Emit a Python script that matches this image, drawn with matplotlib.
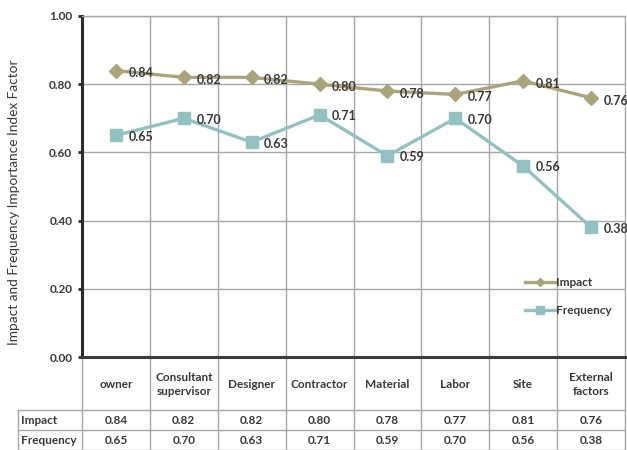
#!/usr/bin/env python3
"""
Impact and frequency importance index by risk source, with data table below.
"""
import matplotlib
matplotlib.use("Agg")
import matplotlib.pyplot as plt

categories = ["owner", "Consultant\nsupervisor", "Designer", "Contractor",
              "Material", "Labor", "Site", "External\nfactors"]
impact = [0.84, 0.82, 0.82, 0.80, 0.78, 0.77, 0.81, 0.76]
frequency = [0.65, 0.70, 0.63, 0.71, 0.59, 0.70, 0.56, 0.38]
y_ticks = [0.0, 0.2, 0.4, 0.6, 0.8, 1.0]

IMPACT_COLOR = "#aaa47a"
FREQ_COLOR = "#93c1c1"
TEXT_COLOR = "#383838"
GRID_COLOR = "#a6a6a6"

plt.rcParams["font.family"] = ["Lato", "DejaVu Sans"]

W, H = 627, 450
fig = plt.figure(figsize=(W / 100, H / 100), dpi=100)

# plot area in pixels
left, right, top, bottom = 82, 625, 16, 357
ax = fig.add_axes([left / W, 1 - bottom / H, (right - left) / W, (bottom - top) / H])

n = len(categories)
x = list(range(n))
ax.set_xlim(-0.5, n - 0.5)
ax.set_ylim(0, 1.0)

# grid
for i in range(1, n):
    ax.axvline(i - 0.5, color=GRID_COLOR, lw=1, zorder=0)
for t in y_ticks[1:]:
    ax.axhline(t, color=GRID_COLOR, lw=1, zorder=0)

ax.plot(x, impact, color=IMPACT_COLOR, lw=2.4, marker="D", ms=7, label="Impact", zorder=3)
ax.plot(x, frequency, color=FREQ_COLOR, lw=2.4, marker="s", ms=9, label="Frequency", zorder=3)

for xi, v in zip(x, impact):
    ax.annotate(f"{v:.2f}", (xi, v), xytext=(9, -2), textcoords="offset points",
                va="center", ha="left", fontsize=9, color=TEXT_COLOR,
                fontweight="bold", clip_on=False, zorder=4)
for xi, v in zip(x, frequency):
    ax.annotate(f"{v:.2f}", (xi, v), xytext=(9, -1), textcoords="offset points",
                va="center", ha="left", fontsize=9, color=TEXT_COLOR,
                fontweight="bold", clip_on=False, zorder=4)

ax.set_yticks(y_ticks)
ax.set_yticklabels([f"{t:.2f}" for t in y_ticks], fontsize=8.5, color=TEXT_COLOR,
                   fontweight="bold")
ax.set_xticks([])
ax.tick_params(axis="y", direction="out", length=3, width=2, color="#2b2b2b", pad=4)

ax.spines["left"].set_color("#2b2b2b")
ax.spines["left"].set_linewidth(2.2)
ax.spines["bottom"].set_color("#3a3a3a")
ax.spines["bottom"].set_linewidth(2.2)
ax.spines["top"].set_color(GRID_COLOR)
ax.spines["top"].set_linewidth(1)
ax.spines["right"].set_color(GRID_COLOR)
ax.spines["right"].set_linewidth(1)

ax.set_ylabel("Impact and Frequency Importance Index Factor", fontsize=9.8,
              color=TEXT_COLOR)
ax.yaxis.set_label_coords(-(left - 20) / (right - left), 0.455)

leg = ax.legend(loc="lower right", bbox_to_anchor=(0.995, 0.09), frameon=False,
                handlelength=2.6, handletextpad=0.05, labelspacing=1.4,
                markerscale=0.6, prop={"weight": "bold", "size": 8.5})
for line in leg.get_lines():
    line.set_linewidth(2.4)
for txt in leg.get_texts():
    txt.set_color(TEXT_COLOR)

# data table below the plot, drawn in pixel coordinates
tab = fig.add_axes([0, 0, 1, 1], zorder=-1)
tab.set_xlim(0, W)
tab.set_ylim(H, 0)
tab.axis("off")

colw = (right - left) / n
head_bot, row1_bot, row2_bot = 410, 430, 450
lab_left = 18

for i in range(n + 1):
    xe = left + i * colw
    tab.plot([xe, xe], [bottom, row2_bot], color=GRID_COLOR, lw=1)
tab.plot([lab_left, lab_left], [head_bot, row2_bot], color=GRID_COLOR, lw=1)
for ye in (head_bot, row1_bot, row2_bot - 0.5):
    tab.plot([lab_left, right], [ye, ye], color=GRID_COLOR, lw=1)

cell = dict(fontsize=8.5, color=TEXT_COLOR, fontweight="bold")
for i, name in enumerate(categories):
    cx = left + (i + 0.5) * colw
    tab.text(cx, (bottom + head_bot) / 2 + 1, name, ha="center", va="center",
             linespacing=1.3, **cell)
    tab.text(cx, (head_bot + row1_bot) / 2, f"{impact[i]:.2f}", ha="center", va="center", **cell)
    tab.text(cx, (row1_bot + row2_bot) / 2, f"{frequency[i]:.2f}", ha="center", va="center", **cell)

tab.text(lab_left + 3, (head_bot + row1_bot) / 2, "Impact", ha="left", va="center", **cell)
tab.text(lab_left + 3, (row1_bot + row2_bot) / 2, "Frequency", ha="left", va="center", **cell)

fig.savefig("out.png", dpi=100)
